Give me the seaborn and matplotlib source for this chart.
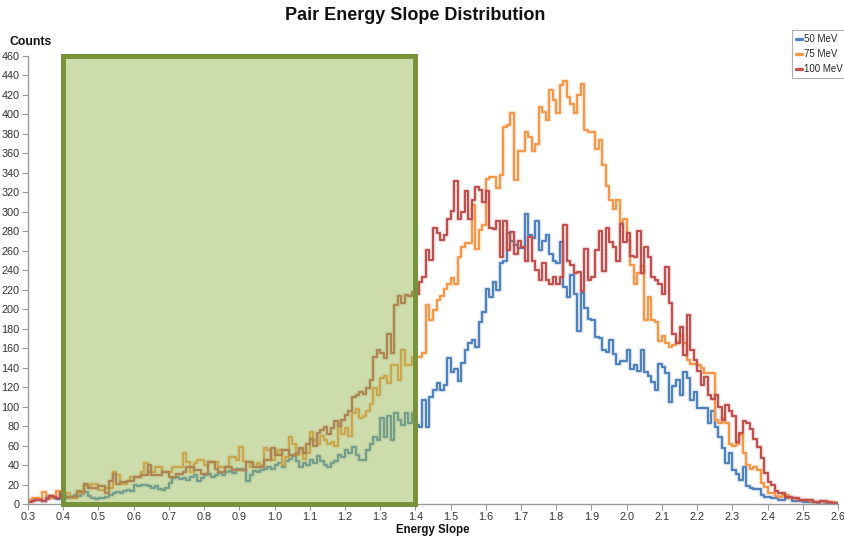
import numpy as np
import pandas as pd
import matplotlib
matplotlib.use("Agg")
import matplotlib.pyplot as plt
import matplotlib.patheffects as pe
from matplotlib.patches import Rectangle
from matplotlib.lines import Line2D
import seaborn as sns

# Histogram bins: 0.01 wide, from 0.30 to 2.60
bin_edges = [round(0.30 + 0.01 * i, 2) for i in range(231)]

# Counts per bin, one row per 0.1 of energy slope
counts_50 = [
    3, 4, 5, 4, 3, 6, 8, 6, 5, 9,
    8, 6, 7, 9, 8, 10, 12, 8, 6, 5,
    6, 6, 7, 9, 11, 12, 11, 13, 14, 13,
    19, 18, 20, 19, 18, 16, 18, 15, 14, 16,
    22, 27, 28, 26, 27, 25, 28, 30, 24, 27,
    30, 31, 28, 30, 32, 30, 33, 34, 32, 36,
    36, 35, 24, 30, 34, 33, 35, 36, 38, 36,
    40, 42, 38, 44, 46, 49, 44, 38, 42, 40,
    45, 42, 49, 44, 40, 38, 42, 44, 50, 48,
    55, 52, 59, 50, 45, 45, 55, 62, 69, 66,
    88, 69, 90, 66, 93, 86, 81, 93, 83, 93,
    81, 79, 107, 79, 110, 117, 124, 117, 122, 150,
    136, 139, 126, 145, 158, 165, 168, 161, 187, 197,
    221, 213, 228, 220, 247, 250, 278, 270, 266, 263,
    263, 298, 276, 273, 291, 261, 270, 276, 257, 250,
    247, 269, 223, 213, 235, 216, 178, 217, 201, 190,
    189, 171, 170, 158, 156, 168, 154, 144, 147, 147,
    158, 139, 143, 137, 158, 136, 131, 125, 117, 144,
    141, 134, 105, 121, 127, 112, 136, 129, 107, 115,
    99, 99, 99, 83, 95, 79, 69, 57, 42, 52,
    35, 31, 25, 38, 18, 16, 15, 15, 9, 7,
    7, 6, 6, 4, 4, 6, 6, 3, 3, 3,
    2, 2, 2, 2, 1, 2, 1, 1, 1, 1,
]

counts_75 = [
    4, 6, 6, 5, 12, 8, 6, 8, 13, 10,
    11, 11, 6, 6, 11, 11, 18, 18, 21, 21,
    14, 14, 16, 16, 33, 30, 21, 21, 24, 28,
    28, 28, 33, 42, 33, 33, 38, 38, 33, 33,
    33, 38, 38, 38, 52, 43, 33, 42, 45, 45,
    40, 43, 43, 43, 38, 38, 38, 48, 48, 45,
    59, 44, 43, 38, 38, 42, 40, 58, 55, 45,
    52, 55, 40, 48, 69, 62, 50, 56, 46, 52,
    74, 66, 62, 70, 66, 62, 64, 60, 83, 72,
    78, 70, 93, 98, 88, 90, 96, 103, 119, 112,
    129, 131, 124, 143, 143, 127, 158, 143, 143, 151,
    151, 151, 155, 204, 189, 199, 209, 214, 221, 226,
    232, 226, 254, 264, 268, 268, 307, 262, 281, 286,
    334, 336, 336, 324, 338, 387, 389, 401, 333, 362,
    362, 382, 377, 362, 370, 408, 403, 394, 425, 415,
    401, 430, 434, 418, 411, 401, 420, 431, 384, 382,
    382, 365, 374, 348, 327, 312, 303, 312, 290, 293,
    271, 245, 226, 237, 244, 189, 213, 189, 187, 167,
    172, 165, 161, 163, 166, 173, 165, 148, 144, 144,
    143, 140, 134, 134, 134, 86, 83, 88, 83, 62,
    60, 62, 71, 52, 40, 36, 38, 35, 22, 17,
    11, 11, 8, 7, 9, 9, 6, 6, 5, 4,
    4, 4, 3, 2, 2, 2, 2, 2, 2, 1,
]

counts_100 = [
    2, 3, 4, 4, 3, 5, 8, 7, 6, 11,
    7, 7, 7, 7, 13, 12, 21, 16, 16, 16,
    18, 18, 11, 24, 31, 21, 23, 23, 24, 24,
    28, 28, 30, 30, 40, 30, 30, 30, 33, 33,
    28, 28, 31, 31, 33, 38, 38, 35, 35, 31,
    31, 43, 43, 36, 33, 33, 38, 38, 35, 35,
    35, 35, 43, 43, 38, 38, 38, 45, 45, 58,
    50, 50, 55, 55, 50, 50, 52, 58, 52, 62,
    67, 60, 73, 76, 79, 72, 78, 85, 80, 86,
    91, 96, 110, 112, 115, 113, 119, 127, 151, 158,
    155, 150, 175, 155, 204, 214, 206, 215, 214, 218,
    216, 228, 233, 261, 251, 283, 278, 271, 276, 293,
    301, 332, 293, 300, 321, 293, 312, 326, 322, 310,
    321, 283, 282, 291, 254, 291, 261, 279, 257, 270,
    264, 249, 274, 250, 240, 230, 247, 230, 226, 233,
    226, 233, 286, 249, 245, 237, 238, 219, 262, 230,
    233, 261, 280, 239, 283, 269, 264, 250, 288, 269,
    278, 255, 254, 280, 237, 264, 254, 233, 230, 226,
    216, 243, 206, 175, 165, 182, 153, 194, 158, 148,
    137, 122, 130, 112, 108, 112, 100, 86, 102, 96,
    90, 64, 73, 85, 83, 77, 67, 59, 47, 32,
    23, 20, 13, 11, 11, 7, 7, 6, 6, 4,
    4, 4, 4, 2, 2, 3, 3, 2, 1, 1,
]

series_labels = ["50 MeV", "75 MeV", "100 MeV"]
series_colors = ["#4F81BD", "#F79646", "#C0504D"]

x_ticks = [round(0.3 + 0.1 * i, 1) for i in range(24)]
y_ticks = list(range(0, 461, 20))

# Highlighted slope window
window_x = [0.4, 1.4]
window_top = 460

bin_centers = [e + 0.005 for e in bin_edges[:-1]]
frames = []
for label, counts in zip(series_labels, [counts_50, counts_75, counts_100]):
    frames.append(pd.DataFrame({"slope": bin_centers, "counts": counts, "energy": label}))
df = pd.concat(frames, ignore_index=True)

sns.set_theme(style="white")
plt.rcParams["font.family"] = ["Liberation Sans", "DejaVu Sans"]

W, H = 845, 539
fig = plt.figure(figsize=(W / 100, H / 100), dpi=100)
ax = fig.add_axes([28 / W, 1 - 504 / H, (838 - 28) / W, (504 - 56) / H])

for label, color in zip(series_labels, series_colors):
    sub = df[df["energy"] == label]
    n_before = len(ax.lines) + len(ax.patches)
    sns.histplot(data=sub, x="slope", weights="counts", bins=bin_edges,
                 element="step", fill=False, color=color, linewidth=1.5,
                 ax=ax, legend=False)
    # soft halo around each outline
    drawn = list(ax.lines) + list(ax.patches)
    for artist in drawn[n_before:]:
        artist.set_path_effects([
            pe.Stroke(linewidth=3.2, foreground=color, alpha=0.22), pe.Normal()])

ax.add_patch(Rectangle((window_x[0], 0), window_x[1] - window_x[0], window_top,
                       facecolor="#9BBB59", edgecolor="none", alpha=0.5, zorder=5))
ax.add_patch(Rectangle((window_x[0], 0), window_x[1] - window_x[0], window_top,
                       fill=False, edgecolor="#77933C", linewidth=3.6,
                       zorder=6, clip_on=False))

ax.set_xlim(0.3, 2.6)
ax.set_ylim(0, 460)
ax.set_xticks(x_ticks)
ax.set_xticklabels([f"{t:.1f}" for t in x_ticks])
ax.set_yticks(y_ticks)
ax.set_xlabel("")
ax.set_ylabel("")

for side in ["top", "right"]:
    ax.spines[side].set_visible(False)
for side in ["left", "bottom"]:
    ax.spines[side].set_color("#9a9a9a")
    ax.spines[side].set_linewidth(1.0)
ax.tick_params(axis="both", which="major", direction="out", length=4, width=0.8,
               color="#9a9a9a", labelsize=7.8, labelcolor="#333333", pad=2,
               bottom=True, left=True)

fig.text(415 / W, 1 - 16 / H, "Pair Energy Slope Distribution", ha="center",
         va="center", fontsize=13, fontweight="bold", color="#111111")
fig.text(10 / W, 1 - 42 / H, "Counts", ha="left", va="center",
         fontsize=8.8, fontweight="bold", color="#111111")
fig.text(433 / W, 1 - 530 / H, "Energy Slope", ha="center", va="center",
         fontsize=8.3, fontweight="bold", color="#111111")

handles = [Line2D([0], [0], color=c, linewidth=2.4) for c in series_colors]
leg = fig.legend(handles, series_labels, loc="upper left",
                 bbox_to_anchor=(792 / W, 1 - 30 / H), fontsize=7.0,
                 frameon=True, fancybox=False, edgecolor="#999999",
                 borderpad=0.45, labelspacing=0.5, handlelength=0.6,
                 handletextpad=0.15, borderaxespad=0)
leg.get_frame().set_linewidth(0.8)

fig.savefig("out.png", dpi=100)
